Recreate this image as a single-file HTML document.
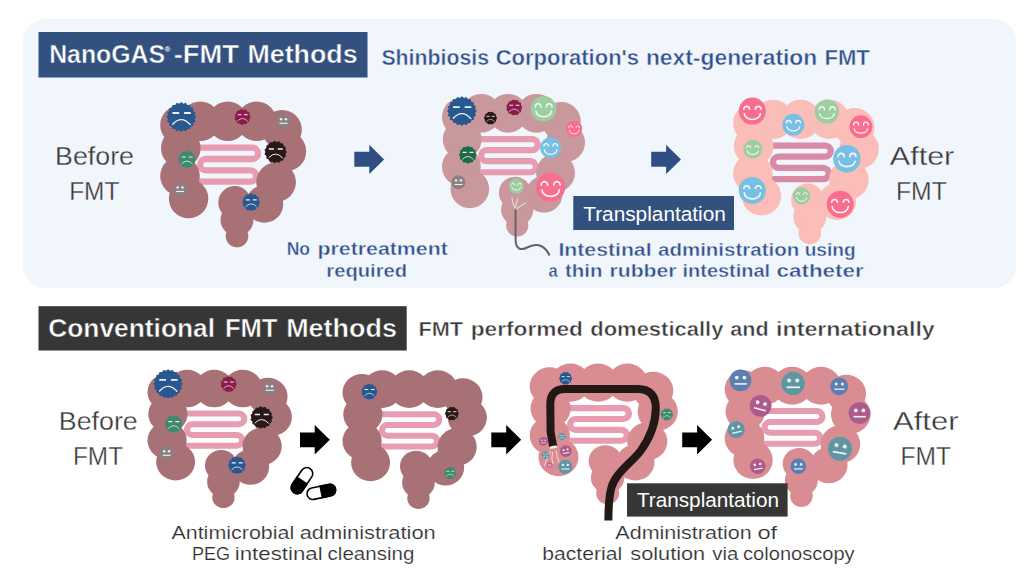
<!DOCTYPE html>
<html lang="en">
<head>
<meta charset="utf-8">
<title>NanoGAS-FMT Methods vs Conventional FMT Methods</title>
<style>
html,body{margin:0;padding:0;background:#fff;}
body{width:1024px;height:576px;overflow:hidden;font-family:"Liberation Sans",sans-serif;}
svg{display:block;}
text{font-family:"Liberation Sans",sans-serif;}
.b{font-weight:bold;}
.navy{fill:#30508a;}
.dk{fill:#3a3a3a;}
</style>
</head>
<body>
<svg width="1024" height="576" viewBox="0 0 1024 576">
<!-- top panel -->
<rect x="23" y="19" width="993" height="269" rx="22" ry="22" fill="#f1f5fc"/>
<!-- title 1 -->
<rect x="38.5" y="32" width="329" height="45.5" fill="#33517f"/>
<!-- title 2 -->
<rect x="38.5" y="306.2" width="368.2" height="44.3" fill="#363636"/>
<g font-size="26.5" class="b" fill="#fff" stroke="#33517f" stroke-width="0.5">
<text x="49.2" y="63" textLength="115.9" lengthAdjust="spacingAndGlyphs">NanoGAS</text>
<text x="173.7" y="63" textLength="65.2" lengthAdjust="spacingAndGlyphs">-FMT</text>
<text x="247.4" y="63" textLength="110.2" lengthAdjust="spacingAndGlyphs">Methods</text>
</g>
<text x="164.6" y="51.5" font-size="8" class="b" fill="#fff">®</text>
<g font-size="21.5" class="b" fill="#30508a" stroke="#f1f5fc" stroke-width="0.45">
<text x="381.4" y="64.5" textLength="107.7" lengthAdjust="spacingAndGlyphs">Shinbiosis</text>
<text x="495.7" y="64.5" textLength="143.4" lengthAdjust="spacingAndGlyphs">Corporation's</text>
<text x="645.9" y="64.5" textLength="171.4" lengthAdjust="spacingAndGlyphs">next-generation</text>
<text x="824.4" y="64.5" textLength="45.4" lengthAdjust="spacingAndGlyphs">FMT</text>
</g>
<g font-size="26.5" class="b" fill="#fff" stroke="#363636" stroke-width="0.5">
<text x="48.2" y="337" textLength="166.9" lengthAdjust="spacingAndGlyphs">Conventional</text>
<text x="224.9" y="337" textLength="52.6" lengthAdjust="spacingAndGlyphs">FMT</text>
<text x="286.2" y="337" textLength="110.7" lengthAdjust="spacingAndGlyphs">Methods</text>
</g>
<g font-size="21" class="b" fill="#3a3a3a" stroke="#fff" stroke-width="0.45">
<text x="418.4" y="335.5" textLength="44.6" lengthAdjust="spacingAndGlyphs">FMT</text>
<text x="470.7" y="335.5" textLength="112.3" lengthAdjust="spacingAndGlyphs">performed</text>
<text x="590.2" y="335.5" textLength="133.3" lengthAdjust="spacingAndGlyphs">domestically</text>
<text x="730.2" y="335.5" textLength="38.4" lengthAdjust="spacingAndGlyphs">and</text>
<text x="776" y="335.5" textLength="158.8" lengthAdjust="spacingAndGlyphs">internationally</text>
</g>
<!-- row 1 illustrations -->
<g transform="translate(160.2 101.5) scale(1.0000 1.0000)">
<path d="M40 46.2 H92.2 A5.6 5.6 0 0 1 92.2 57.5 H45.5 A5.6 5.6 0 0 0 45.5 68.8 H90.2 A5.6 5.6 0 0 1 90.2 80.1 H40" fill="none" stroke="#e79cb2" stroke-width="6.3" stroke-linecap="round"/>
<g fill="#a87176">
<circle cx="19.6" cy="23.5" r="19.6"/>
<circle cx="40.1" cy="19.8" r="19.8"/>
<circle cx="67.5" cy="19.8" r="19.8"/>
<circle cx="96.4" cy="19.8" r="19.8"/>
<circle cx="121.8" cy="28.2" r="19.8"/>
<circle cx="126.2" cy="49.8" r="19.8"/>
<circle cx="115.9" cy="80.7" r="19.8"/>
<circle cx="104.2" cy="102.5" r="18.8"/>
<circle cx="74.5" cy="101" r="16.4"/>
<circle cx="76.8" cy="118.2" r="16.5"/>
<circle cx="76.8" cy="134.6" r="11.3"/>
<circle cx="20.6" cy="46.6" r="19.8"/>
<circle cx="19.8" cy="74.5" r="19.8"/>
<circle cx="28.4" cy="97.1" r="19.7"/>
</g></g>
<polygon points="196.2,117 194.5,119.1 195.5,121.6 193.2,123.1 193.4,125.8 190.8,126.5 190.1,129.1 187.4,128.9 185.9,131.2 183.4,130.2 181.3,131.9 179.2,130.2 176.7,131.2 175.2,128.9 172.5,129.1 171.8,126.5 169.2,125.8 169.4,123.1 167.1,121.6 168.1,119.1 166.4,117 168.1,114.9 167.1,112.4 169.4,110.9 169.2,108.2 171.8,107.5 172.5,104.9 175.2,105.1 176.7,102.8 179.2,103.8 181.3,102.1 183.4,103.8 185.9,102.8 187.4,105.1 190.1,104.9 190.8,107.5 193.4,108.2 193.2,110.9 195.5,112.4 194.5,114.9" fill="#27588f"/><path d="M172.4 113H179.2M184.1 113H190.8" stroke="#f0f0f0" stroke-width="1.9" fill="none"/><path d="M172.7 124.2Q181.3 114.8 190.2 124.5" stroke="#f0f0f0" stroke-width="1.3" fill="none" stroke-linecap="round"/>
<polygon points="250.6,116.9 249.5,119 249.3,121.3 247.3,122.4 245.9,124.3 243.5,124.1 241.3,124.9 239.5,123.5 237.2,123 236.4,120.8 234.7,119.2 235.2,116.9 234.7,114.6 236.4,113 237.2,110.8 239.5,110.3 241.3,108.9 243.5,109.7 245.9,109.5 247.3,111.4 249.3,112.5 249.5,114.8" fill="#8a1c4c"/><path d="M237.6 114.7H241.4M244 114.7H247.7" stroke="#f0f0f0" stroke-width="1.1" fill="none"/><path d="M237.8 120.8Q242.5 115.7 247.4 121" stroke="#f0f0f0" stroke-width="0.7" fill="none" stroke-linecap="round"/>
<circle cx="283.4" cy="121" r="7" fill="#8b8184"/><circle cx="281" cy="119.2" r="1.2" fill="#f2f2f2"/><circle cx="285.9" cy="119.2" r="1.2" fill="#f2f2f2"/><path d="M279.5 123.3H287.5" stroke="#f2f2f2" stroke-width="1.1" fill="none"/>
<polygon points="286.9,152 285.5,154.1 285.9,156.6 283.8,158 283.2,160.4 280.7,160.8 279.1,162.7 276.7,162.1 274.4,163.2 272.5,161.7 270,161.8 268.8,159.6 266.5,158.6 266.3,156.1 264.5,154.3 265.4,152 264.5,149.7 266.3,147.9 266.5,145.4 268.8,144.4 270,142.2 272.5,142.3 274.4,140.8 276.7,141.9 279.1,141.3 280.7,143.2 283.2,143.6 283.8,146 285.9,147.4 285.5,149.9" fill="#2a1819"/><path d="M268.8 148.9H274M277.7 148.9H282.8" stroke="#f0f0f0" stroke-width="1.5" fill="none"/><path d="M269 157.4Q275.6 150.3 282.4 157.7" stroke="#f0f0f0" stroke-width="1" fill="none" stroke-linecap="round"/>
<polygon points="195.9,159.4 194.7,161.5 194.7,163.8 192.7,165.1 191.4,167.1 189.1,167.1 187,168.3 184.9,167.1 182.6,167.1 181.3,165.1 179.3,163.8 179.3,161.5 178.1,159.4 179.3,157.3 179.3,155 181.3,153.7 182.5,151.7 184.9,151.7 187,150.5 189.1,151.7 191.4,151.7 192.7,153.7 194.7,154.9 194.7,157.3" fill="#3f8a6c"/><path d="M181.7 157H185.8M188.7 157H192.7" stroke="#f0f0f0" stroke-width="1.2" fill="none"/><path d="M181.8 163.7Q187 158.1 192.3 163.8" stroke="#f0f0f0" stroke-width="0.8" fill="none" stroke-linecap="round"/>
<circle cx="180" cy="189.2" r="7" fill="#8b8184"/><circle cx="177.6" cy="187.4" r="1.2" fill="#f2f2f2"/><circle cx="182.5" cy="187.4" r="1.2" fill="#f2f2f2"/><path d="M176.2 191.5H184.1" stroke="#f2f2f2" stroke-width="1.1" fill="none"/>
<polygon points="260,202.2 258.8,204.3 258.8,206.6 256.8,207.9 255.5,209.9 253.2,209.9 251.1,211.1 249,209.9 246.7,209.9 245.4,207.9 243.4,206.6 243.4,204.3 242.2,202.2 243.4,200.1 243.4,197.8 245.4,196.5 246.6,194.5 249,194.5 251.1,193.3 253.2,194.5 255.5,194.5 256.8,196.5 258.8,197.7 258.8,200.1" fill="#27588f"/><path d="M245.8 199.8H249.9M252.8 199.8H256.8" stroke="#f0f0f0" stroke-width="1.2" fill="none"/><path d="M245.9 206.5Q251.1 200.9 256.4 206.6" stroke="#f0f0f0" stroke-width="0.8" fill="none" stroke-linecap="round"/>
<g transform="translate(442 93.9) scale(0.9795 0.9781)">
<path d="M40 46.2 H92.2 A5.6 5.6 0 0 1 92.2 57.5 H45.5 A5.6 5.6 0 0 0 45.5 68.8 H90.2 A5.6 5.6 0 0 1 90.2 80.1 H40" fill="none" stroke="#e79cb2" stroke-width="6.3" stroke-linecap="round"/>
<g fill="#c9989c">
<circle cx="19.6" cy="23.5" r="19.6"/>
<circle cx="40.1" cy="19.8" r="19.8"/>
<circle cx="67.5" cy="19.8" r="19.8"/>
<circle cx="96.4" cy="19.8" r="19.8"/>
<circle cx="121.8" cy="28.2" r="19.8"/>
<circle cx="126.2" cy="49.8" r="19.8"/>
<circle cx="115.9" cy="80.7" r="19.8"/>
<circle cx="104.2" cy="102.5" r="18.8"/>
<circle cx="74.5" cy="101" r="16.4"/>
<circle cx="76.8" cy="118.2" r="16.5"/>
<circle cx="76.8" cy="134.6" r="11.3"/>
<circle cx="20.6" cy="46.6" r="19.8"/>
<circle cx="19.8" cy="74.5" r="19.8"/>
<circle cx="28.4" cy="97.1" r="19.7"/>
</g></g>
<path d="M515 207.9Q512.3 203 511.9 197.5M515.7 207.2Q516 202.5 517.8 198.9M517.1 208.6Q520.5 205.5 525.4 203" stroke="#ead9d9" stroke-width="1.2" fill="none" stroke-linecap="round"/>
<path d="M515.5 209.5L515.6 240C515.7 249 521 250.5 526 248C531 245.5 536 243.5 541 246C546 248.5 548 252 549.5 255.5" stroke="#6b6062" stroke-width="2" fill="none"/>
<polygon points="476.7,111.1 475.1,113.2 476,115.7 473.8,117.1 473.9,119.8 471.3,120.5 470.6,123.1 467.9,123 466.5,125.2 464,124.3 461.9,125.9 459.8,124.3 457.3,125.2 455.9,123 453.2,123.1 452.5,120.5 449.9,119.8 450,117.1 447.8,115.7 448.7,113.2 447.1,111.1 448.7,109 447.8,106.5 450,105.1 449.9,102.4 452.5,101.7 453.2,99.1 455.9,99.2 457.3,97 459.8,97.9 461.9,96.3 464,97.9 466.5,97 467.9,99.2 470.6,99.1 471.3,101.7 473.9,102.4 473.8,105.1 476,106.5 475.1,109" fill="#27588f"/><path d="M453 107.1H459.8M464.7 107.1H471.4" stroke="#f0f0f0" stroke-width="1.9" fill="none"/><path d="M453.3 118.2Q461.9 108.9 470.8 118.5" stroke="#f0f0f0" stroke-width="1.3" fill="none" stroke-linecap="round"/>
<polygon points="497.1,118.1 496.1,119.9 495.8,122 494,122.9 492.5,124.4 490.5,124 488.5,124.4 487,122.9 485.2,122 484.9,119.9 483.9,118.1 484.9,116.3 485.2,114.2 487,113.3 488.5,111.8 490.5,112.2 492.5,111.8 494,113.3 495.8,114.2 496.1,116.3" fill="#2a1819"/><path d="M486.5 116.3H489.6M491.8 116.3H494.7" stroke="#f0f0f0" stroke-width="0.9" fill="none"/><path d="M486.7 121.3Q490.5 117.1 494.5 121.4" stroke="#f0f0f0" stroke-width="0.6" fill="none" stroke-linecap="round"/>
<polygon points="522.3,107.5 521.2,109.6 521,111.9 519,113 517.6,114.9 515.2,114.7 513,115.5 511.2,114.1 508.9,113.6 508.1,111.4 506.4,109.8 506.9,107.5 506.4,105.2 508.1,103.6 508.9,101.4 511.2,100.9 513,99.5 515.2,100.3 517.6,100.1 519,102 521,103.1 521.2,105.4" fill="#8a1c4c"/><path d="M509.3 105.3H513.1M515.7 105.3H519.4" stroke="#f0f0f0" stroke-width="1.1" fill="none"/><path d="M509.5 111.4Q514.2 106.3 519.1 111.5" stroke="#f0f0f0" stroke-width="0.7" fill="none" stroke-linecap="round"/>
<circle cx="543.6" cy="108.8" r="12.8" fill="#9bcf9f"/><path d="M535.4 106.9A2.8 3.1 0 0 1 541 106.9M546.4 106.9A2.8 3.1 0 0 1 552 106.9M536 111.1A7.6 5.6 0 0 0 551.3 111.1" stroke="#fdf4f4" stroke-width="1.5" fill="none" stroke-linecap="round"/>
<circle cx="574.1" cy="128.8" r="8.1" fill="#f86e8e"/><path d="M568.9 127.6A1.8 2 0 0 1 572.5 127.6M575.9 127.6A1.8 2 0 0 1 579.4 127.6M569.3 130.3A4.8 3.6 0 0 0 579 130.3" stroke="#fdf4f4" stroke-width="0.9" fill="none" stroke-linecap="round"/>
<circle cx="550.6" cy="147.8" r="10.5" fill="#76c0e6"/><path d="M543.9 146.2A2.3 2.5 0 0 1 548.5 146.2M552.9 146.2A2.3 2.5 0 0 1 557.5 146.2M544.4 149.7A6.2 4.6 0 0 0 556.9 149.7" stroke="#fdf4f4" stroke-width="1.2" fill="none" stroke-linecap="round"/>
<polygon points="476.7,154.8 475.5,156.9 475.5,159.2 473.5,160.5 472.2,162.5 469.9,162.5 467.8,163.7 465.7,162.5 463.4,162.5 462.1,160.5 460.1,159.2 460.1,156.9 458.9,154.8 460.1,152.7 460.1,150.4 462.1,149.1 463.4,147.1 465.7,147.1 467.8,145.9 469.9,147.1 472.2,147.1 473.5,149.1 475.5,150.3 475.5,152.7" fill="#1e6b4a"/><path d="M462.5 152.4H466.6M469.5 152.4H473.5" stroke="#f0f0f0" stroke-width="1.2" fill="none"/><path d="M462.6 159.1Q467.8 153.5 473.1 159.2" stroke="#f0f0f0" stroke-width="0.8" fill="none" stroke-linecap="round"/>
<circle cx="458.4" cy="182.2" r="7" fill="#8b8184"/><circle cx="456" cy="180.4" r="1.2" fill="#f2f2f2"/><circle cx="460.9" cy="180.4" r="1.2" fill="#f2f2f2"/><path d="M454.5 184.5H462.5" stroke="#f2f2f2" stroke-width="1.1" fill="none"/>
<circle cx="516.3" cy="186.1" r="7.5" fill="#9bcf9f"/><path d="M511.5 185A1.6 1.8 0 0 1 514.8 185M517.9 185A1.6 1.8 0 0 1 521.2 185M511.9 187.4A4.5 3.3 0 0 0 520.8 187.4" stroke="#fdf4f4" stroke-width="0.9" fill="none" stroke-linecap="round"/>
<circle cx="550.6" cy="187.3" r="14.5" fill="#f86e8e"/><path d="M541.3 185.1A3.2 3.5 0 0 1 547.7 185.1M553.8 185.1A3.2 3.5 0 0 1 560.2 185.1M542 189.9A8.6 6.4 0 0 0 559.3 189.9" stroke="#fdf4f4" stroke-width="1.7" fill="none" stroke-linecap="round"/>
<g transform="translate(733.1 99.7) scale(0.9986 0.9918)">
<path d="M40 46.2 H92.2 A5.6 5.6 0 0 1 92.2 57.5 H45.5 A5.6 5.6 0 0 0 45.5 68.8 H90.2 A5.6 5.6 0 0 1 90.2 80.1 H40" fill="none" stroke="#d88aa6" stroke-width="6.3" stroke-linecap="round"/>
<g fill="#fbbdb8">
<circle cx="19.6" cy="23.5" r="19.6"/>
<circle cx="40.1" cy="19.8" r="19.8"/>
<circle cx="67.5" cy="19.8" r="19.8"/>
<circle cx="96.4" cy="19.8" r="19.8"/>
<circle cx="121.8" cy="28.2" r="19.8"/>
<circle cx="126.2" cy="49.8" r="19.8"/>
<circle cx="115.9" cy="80.7" r="19.8"/>
<circle cx="104.2" cy="102.5" r="18.8"/>
<circle cx="74.5" cy="101" r="16.4"/>
<circle cx="76.8" cy="118.2" r="16.5"/>
<circle cx="76.8" cy="134.6" r="11.3"/>
<circle cx="20.6" cy="46.6" r="19.8"/>
<circle cx="19.8" cy="74.5" r="19.8"/>
<circle cx="28.4" cy="97.1" r="19.7"/>
</g></g>
<circle cx="752.3" cy="111.1" r="13.5" fill="#f86e8e"/><path d="M743.7 109.1A3 3.3 0 0 1 749.6 109.1M755.3 109.1A3 3.3 0 0 1 761.2 109.1M744.3 113.5A8 5.9 0 0 0 760.4 113.5" stroke="#fdf4f4" stroke-width="1.6" fill="none" stroke-linecap="round"/>
<circle cx="793.3" cy="124.7" r="10.9" fill="#76c0e6"/><path d="M786.3 123.1A2.4 2.6 0 0 1 791.1 123.1M795.7 123.1A2.4 2.6 0 0 1 800.5 123.1M786.9 126.7A6.5 4.8 0 0 0 799.8 126.7" stroke="#fdf4f4" stroke-width="1.3" fill="none" stroke-linecap="round"/>
<circle cx="826.9" cy="111.6" r="12.2" fill="#9bcf9f"/><path d="M819.1 109.8A2.7 3 0 0 1 824.5 109.8M829.6 109.8A2.7 3 0 0 1 835 109.8M819.7 113.8A7.3 5.4 0 0 0 834.2 113.8" stroke="#fdf4f4" stroke-width="1.4" fill="none" stroke-linecap="round"/>
<circle cx="860.9" cy="126.7" r="11.4" fill="#f86e8e"/><path d="M853.6 125A2.5 2.8 0 0 1 858.6 125M863.4 125A2.5 2.8 0 0 1 868.4 125M854.2 128.8A6.8 5 0 0 0 867.7 128.8" stroke="#fdf4f4" stroke-width="1.3" fill="none" stroke-linecap="round"/>
<circle cx="752.7" cy="149.1" r="9.4" fill="#9bcf9f"/><path d="M746.7 147.7A2.1 2.3 0 0 1 750.8 147.7M754.8 147.7A2.1 2.3 0 0 1 758.9 147.7M747.2 150.8A5.6 4.1 0 0 0 758.3 150.8" stroke="#fdf4f4" stroke-width="1.1" fill="none" stroke-linecap="round"/>
<circle cx="846.9" cy="158.8" r="13.7" fill="#76c0e6"/><path d="M838.1 156.7A3 3.3 0 0 1 844.2 156.7M849.9 156.7A3 3.3 0 0 1 855.9 156.7M838.8 161.3A8.2 6 0 0 0 855.1 161.3" stroke="#fdf4f4" stroke-width="1.6" fill="none" stroke-linecap="round"/>
<circle cx="752.3" cy="190.5" r="13.5" fill="#76c0e6"/><path d="M743.7 188.5A3 3.3 0 0 1 749.6 188.5M755.3 188.5A3 3.3 0 0 1 761.2 188.5M744.3 192.9A8 5.9 0 0 0 760.4 192.9" stroke="#fdf4f4" stroke-width="1.6" fill="none" stroke-linecap="round"/>
<circle cx="801.6" cy="195.9" r="8.6" fill="#9bcf9f"/><path d="M796.1 194.6A1.9 2.1 0 0 1 799.9 194.6M803.5 194.6A1.9 2.1 0 0 1 807.3 194.6M796.5 197.4A5.1 3.8 0 0 0 806.8 197.4" stroke="#fdf4f4" stroke-width="1" fill="none" stroke-linecap="round"/>
<circle cx="840.2" cy="204.2" r="13.5" fill="#f86e8e"/><path d="M831.6 202.2A3 3.3 0 0 1 837.5 202.2M843.2 202.2A3 3.3 0 0 1 849.1 202.2M832.2 206.6A8 5.9 0 0 0 848.3 206.6" stroke="#fdf4f4" stroke-width="1.6" fill="none" stroke-linecap="round"/>
<!-- row 2 illustrations -->
<g transform="translate(147.5 369.8) scale(0.9890 0.9479)">
<path d="M40 46.2 H92.2 A5.6 5.6 0 0 1 92.2 57.5 H45.5 A5.6 5.6 0 0 0 45.5 68.8 H90.2 A5.6 5.6 0 0 1 90.2 80.1 H40" fill="none" stroke="#e79cb2" stroke-width="6.3" stroke-linecap="round"/>
<g fill="#a87176">
<circle cx="19.6" cy="23.5" r="19.6"/>
<circle cx="40.1" cy="19.8" r="19.8"/>
<circle cx="67.5" cy="19.8" r="19.8"/>
<circle cx="96.4" cy="19.8" r="19.8"/>
<circle cx="121.8" cy="28.2" r="19.8"/>
<circle cx="126.2" cy="49.8" r="19.8"/>
<circle cx="115.9" cy="80.7" r="19.8"/>
<circle cx="104.2" cy="102.5" r="18.8"/>
<circle cx="74.5" cy="101" r="16.4"/>
<circle cx="76.8" cy="118.2" r="16.5"/>
<circle cx="76.8" cy="134.6" r="11.3"/>
<circle cx="20.6" cy="46.6" r="19.8"/>
<circle cx="19.8" cy="74.5" r="19.8"/>
<circle cx="28.4" cy="97.1" r="19.7"/>
</g></g>
<polygon points="182.8,383.9 181.2,386 182.1,388.4 179.9,389.9 180,392.5 177.5,393.3 176.7,395.8 174.1,395.7 172.6,397.9 170.2,397 168.1,398.6 166,397 163.6,397.9 162.1,395.7 159.5,395.8 158.7,393.3 156.2,392.5 156.3,389.9 154.1,388.4 155,386 153.4,383.9 155,381.8 154.1,379.4 156.3,377.9 156.2,375.3 158.7,374.5 159.5,372 162.1,372.1 163.6,369.9 166,370.8 168.1,369.2 170.2,370.8 172.6,369.9 174.1,372.1 176.7,372 177.5,374.5 180,375.3 179.9,377.9 182.1,379.4 181.2,381.8" fill="#27588f"/><path d="M159.3 379.9H166M170.9 379.9H177.5" stroke="#f0f0f0" stroke-width="1.9" fill="none"/><path d="M159.6 391Q168.1 381.7 176.9 391.2" stroke="#f0f0f0" stroke-width="1.3" fill="none" stroke-linecap="round"/>
<polygon points="236.7,384.2 235.6,386.3 235.4,388.6 233.4,389.7 232,391.6 229.6,391.4 227.4,392.2 225.6,390.8 223.3,390.3 222.5,388.1 220.8,386.5 221.3,384.2 220.8,381.9 222.5,380.3 223.3,378.1 225.6,377.6 227.4,376.2 229.6,377 232,376.8 233.4,378.7 235.4,379.8 235.6,382.1" fill="#8a1c4c"/><path d="M223.7 382H227.5M230.1 382H233.8" stroke="#f0f0f0" stroke-width="1.1" fill="none"/><path d="M223.9 388.1Q228.6 383 233.5 388.2" stroke="#f0f0f0" stroke-width="0.7" fill="none" stroke-linecap="round"/>
<circle cx="269.5" cy="388" r="7" fill="#8b8184"/><circle cx="267.1" cy="386.2" r="1.2" fill="#f2f2f2"/><circle cx="272" cy="386.2" r="1.2" fill="#f2f2f2"/><path d="M265.6 390.3H273.6" stroke="#f2f2f2" stroke-width="1.1" fill="none"/>
<polygon points="272.9,417.5 271.5,419.6 271.9,422.1 269.8,423.5 269.2,425.9 266.7,426.3 265.1,428.2 262.7,427.6 260.4,428.7 258.5,427.2 256,427.3 254.8,425.1 252.5,424.1 252.3,421.6 250.5,419.8 251.4,417.5 250.5,415.2 252.3,413.4 252.5,410.9 254.8,409.9 256,407.7 258.5,407.8 260.4,406.3 262.7,407.4 265.1,406.8 266.7,408.7 269.2,409.1 269.8,411.5 271.9,412.9 271.5,415.4" fill="#2a1819"/><path d="M254.8 414.4H260M263.7 414.4H268.8" stroke="#f0f0f0" stroke-width="1.5" fill="none"/><path d="M255 422.9Q261.6 415.8 268.4 423.1" stroke="#f0f0f0" stroke-width="1" fill="none" stroke-linecap="round"/>
<polygon points="182.5,424 181.3,426.1 181.3,428.4 179.3,429.7 178,431.7 175.7,431.7 173.6,432.9 171.5,431.7 169.2,431.7 167.9,429.7 165.9,428.4 165.9,426.1 164.7,424 165.9,421.9 165.9,419.6 167.9,418.3 169.1,416.3 171.5,416.3 173.6,415.1 175.7,416.3 178,416.3 179.3,418.3 181.3,419.6 181.3,421.9" fill="#3f8a6c"/><path d="M168.3 421.6H172.4M175.3 421.6H179.3" stroke="#f0f0f0" stroke-width="1.2" fill="none"/><path d="M168.4 428.3Q173.6 422.7 178.9 428.4" stroke="#f0f0f0" stroke-width="0.8" fill="none" stroke-linecap="round"/>
<circle cx="166.6" cy="453" r="7" fill="#8b8184"/><circle cx="164.2" cy="451.2" r="1.2" fill="#f2f2f2"/><circle cx="169.1" cy="451.2" r="1.2" fill="#f2f2f2"/><path d="M162.8 455.3H170.7" stroke="#f2f2f2" stroke-width="1.1" fill="none"/>
<polygon points="245.9,465.2 244.7,467.3 244.7,469.6 242.7,470.9 241.4,472.9 239.1,472.9 237,474.1 234.9,472.9 232.6,472.9 231.3,470.9 229.3,469.6 229.3,467.3 228.1,465.2 229.3,463.1 229.3,460.8 231.3,459.5 232.5,457.5 234.9,457.5 237,456.3 239.1,457.5 241.4,457.5 242.7,459.5 244.7,460.8 244.7,463.1" fill="#27588f"/><path d="M231.7 462.8H235.8M238.7 462.8H242.7" stroke="#f0f0f0" stroke-width="1.2" fill="none"/><path d="M231.8 469.5Q237 463.9 242.3 469.6" stroke="#f0f0f0" stroke-width="0.8" fill="none" stroke-linecap="round"/>
<g transform="translate(302 480.6) rotate(-56)"><rect x="-14.5" y="-6" width="29" height="12" rx="6" fill="#fff" stroke="#000" stroke-width="1.6"/><path d="M-14.5 0A6 6 0 0 1 -8.5 -6H0V6H-8.5A6 6 0 0 1 -14.5 0Z" fill="#000" stroke="#000" stroke-width="1.6"/></g>
<g transform="translate(321.3 491.9) rotate(-12)"><rect x="-14.5" y="-5.8" width="29" height="11.6" rx="5.8" fill="#fff" stroke="#000" stroke-width="1.6"/><path d="M14.5 0A5.8 5.8 0 0 0 8.7 -5.8H0V5.8H8.7A5.8 5.8 0 0 0 14.5 0Z" fill="#000" stroke="#000" stroke-width="1.6"/></g>
<g transform="translate(342.5 370.3) scale(0.9890 0.9500)">
<path d="M40 46.2 H92.2 A5.6 5.6 0 0 1 92.2 57.5 H45.5 A5.6 5.6 0 0 0 45.5 68.8 H90.2 A5.6 5.6 0 0 1 90.2 80.1 H40" fill="none" stroke="#e79cb2" stroke-width="6.3" stroke-linecap="round"/>
<g fill="#a87176">
<circle cx="19.6" cy="23.5" r="19.6"/>
<circle cx="40.1" cy="19.8" r="19.8"/>
<circle cx="67.5" cy="19.8" r="19.8"/>
<circle cx="96.4" cy="19.8" r="19.8"/>
<circle cx="121.8" cy="28.2" r="19.8"/>
<circle cx="126.2" cy="49.8" r="19.8"/>
<circle cx="115.9" cy="80.7" r="19.8"/>
<circle cx="104.2" cy="102.5" r="18.8"/>
<circle cx="74.5" cy="101" r="16.4"/>
<circle cx="76.8" cy="118.2" r="16.5"/>
<circle cx="76.8" cy="134.6" r="11.3"/>
<circle cx="20.6" cy="46.6" r="19.8"/>
<circle cx="19.8" cy="74.5" r="19.8"/>
<circle cx="28.4" cy="97.1" r="19.7"/>
</g></g>
<polygon points="377.5,391.7 376.4,393.8 376.2,396.1 374.2,397.2 372.8,399.1 370.4,398.9 368.2,399.7 366.4,398.3 364.1,397.8 363.3,395.6 361.6,394 362.1,391.7 361.6,389.4 363.3,387.8 364.1,385.6 366.4,385.1 368.2,383.7 370.4,384.5 372.8,384.3 374.2,386.2 376.2,387.3 376.4,389.6" fill="#27588f"/><path d="M364.5 389.5H368.3M370.9 389.5H374.6" stroke="#f0f0f0" stroke-width="1.1" fill="none"/><path d="M364.7 395.6Q369.4 390.5 374.3 395.8" stroke="#f0f0f0" stroke-width="0.7" fill="none" stroke-linecap="round"/>
<polygon points="458.9,413.6 457.9,415.5 457.6,417.7 455.6,418.7 454.1,420.3 451.9,419.9 449.7,420.3 448.2,418.7 446.2,417.7 445.9,415.5 444.9,413.6 445.9,411.7 446.2,409.5 448.2,408.5 449.7,406.9 451.9,407.3 454.1,406.9 455.6,408.5 457.6,409.5 457.9,411.7" fill="#2a1819"/><path d="M447.7 411.7H450.9M453.2 411.7H456.4" stroke="#f0f0f0" stroke-width="0.9" fill="none"/><path d="M447.8 417Q451.9 412.6 456.1 417.1" stroke="#f0f0f0" stroke-width="0.6" fill="none" stroke-linecap="round"/>
<polygon points="456.5,473 455.6,474.8 455.3,476.7 453.5,477.6 452.1,479 450.2,478.7 448.3,479 446.9,477.6 445.1,476.7 444.8,474.8 443.9,473 444.8,471.2 445.1,469.3 446.9,468.4 448.3,467 450.2,467.3 452.1,467 453.5,468.4 455.3,469.3 455.6,471.2" fill="#3f8a6c"/><path d="M446.4 471.3H449.3M451.4 471.3H454.2" stroke="#f0f0f0" stroke-width="0.8" fill="none"/><path d="M446.5 476Q450.2 472.1 454 476.1" stroke="#f0f0f0" stroke-width="0.6" fill="none" stroke-linecap="round"/>
<g transform="translate(529.7 363.6) scale(1.0144 0.9637)">
<path d="M40 46.2 H92.2 A5.6 5.6 0 0 1 92.2 57.5 H45.5 A5.6 5.6 0 0 0 45.5 68.8 H90.2 A5.6 5.6 0 0 1 90.2 80.1 H40" fill="none" stroke="#e79cb2" stroke-width="6.3" stroke-linecap="round"/>
<g fill="#d98d93">
<circle cx="19.6" cy="23.5" r="19.6"/>
<circle cx="40.1" cy="19.8" r="19.8"/>
<circle cx="67.5" cy="19.8" r="19.8"/>
<circle cx="96.4" cy="19.8" r="19.8"/>
<circle cx="121.8" cy="28.2" r="19.8"/>
<circle cx="126.2" cy="49.8" r="19.8"/>
<circle cx="115.9" cy="80.7" r="19.8"/>
<circle cx="104.2" cy="102.5" r="18.8"/>
<circle cx="74.5" cy="101" r="16.4"/>
<circle cx="76.8" cy="118.2" r="16.5"/>
<circle cx="76.8" cy="134.6" r="11.3"/>
<circle cx="20.6" cy="46.6" r="19.8"/>
<circle cx="19.8" cy="74.5" r="19.8"/>
<circle cx="28.4" cy="97.1" r="19.7"/>
</g></g>
<path d="M550.3 451.5Q546.5 458 544.6 465.5M552.5 452.5Q551 458 552.8 463.5M556 450.5Q556.5 457 559.4 463" stroke="#f1e2e2" stroke-width="0.9" fill="none" stroke-linecap="round"/>
<path d="M553.2 446.6L550.6 432L550.3 404C550.3 394 555.5 388.9 564.5 388.9H638C650 388.9 655.8 396 655.8 408C655.8 424 651 436.5 640.5 451C632 462.5 615.5 472.5 611.3 488C609.5 495 608.4 505 608.4 520.5" stroke="#231815" stroke-width="8" fill="none"/>
<ellipse cx="553.4" cy="447.2" rx="3.9" ry="1.4" fill="#f3eaea" transform="rotate(-10 553.4 447.2)"/>
<polygon points="572.2,378.4 571.2,380.2 570.9,382.3 569.1,383.2 567.6,384.7 565.6,384.3 563.6,384.7 562.1,383.2 560.3,382.3 560,380.2 559,378.4 560,376.6 560.3,374.5 562.1,373.6 563.6,372.1 565.6,372.5 567.6,372.1 569.1,373.6 570.9,374.5 571.2,376.6" fill="#27588f"/><path d="M561.6 376.6H564.7M566.9 376.6H569.8" stroke="#f0f0f0" stroke-width="0.9" fill="none"/><path d="M561.8 381.6Q565.6 377.4 569.6 381.7" stroke="#f0f0f0" stroke-width="0.6" fill="none" stroke-linecap="round"/>
<polygon points="673.2,414.4 672.3,416.2 672,418.1 670.2,419 668.8,420.4 666.9,420.1 665,420.4 663.6,419 661.8,418.1 661.5,416.2 660.6,414.4 661.5,412.6 661.8,410.7 663.6,409.8 665,408.4 666.9,408.7 668.8,408.4 670.2,409.8 672,410.7 672.3,412.6" fill="#3f8a6c"/><path d="M663.1 412.7H666M668.1 412.7H670.9" stroke="#f0f0f0" stroke-width="0.8" fill="none"/><path d="M663.2 417.4Q666.9 413.5 670.7 417.5" stroke="#f0f0f0" stroke-width="0.6" fill="none" stroke-linecap="round"/>
<polygon points="565.8,436.6 565.2,437.7 565.1,438.9 564,439.4 563.1,440.3 561.9,440.1 560.7,440.3 559.8,439.4 558.7,438.9 558.6,437.7 558,436.6 558.6,435.5 558.7,434.3 559.8,433.8 560.7,432.9 561.9,433.1 563.1,432.9 564,433.8 565.1,434.3 565.2,435.5" fill="#5e97a3"/><path d="M559.6 435.5H561.4M562.6 435.5H564.4" stroke="#f0f0f0" stroke-width="0.7" fill="none"/><path d="M559.6 438.5Q561.9 436 564.2 438.6" stroke="#f0f0f0" stroke-width="0.6" fill="none" stroke-linecap="round"/>
<circle cx="543.4" cy="441.3" r="4.4" fill="#ae5a8c"/><circle cx="541.9" cy="440.2" r="0.7" fill="#f2f2f2"/><circle cx="545" cy="440.2" r="0.7" fill="#f2f2f2"/><path d="M541 442.8H546" stroke="#f2f2f2" stroke-width="0.7" fill="none"/>
<circle cx="565.8" cy="451.1" r="5.9" fill="#ae5a8c"/><g transform="rotate(-10 565.8 451.1)"><circle cx="563.8" cy="449.6" r="1" fill="#f2f2f2"/><circle cx="567.9" cy="449.6" r="1" fill="#f2f2f2"/><path d="M562.6 453H569.2" stroke="#f2f2f2" stroke-width="0.9" fill="none"/></g>
<polygon points="549.4,455 548.8,456.1 548.7,457.3 547.6,457.8 546.7,458.7 545.5,458.5 544.3,458.7 543.4,457.8 542.3,457.3 542.2,456.1 541.6,455 542.2,453.9 542.3,452.7 543.4,452.2 544.3,451.3 545.5,451.5 546.7,451.3 547.6,452.2 548.7,452.7 548.8,453.9" fill="#5e97a3"/><path d="M543.2 453.9H545M546.2 453.9H548" stroke="#f0f0f0" stroke-width="0.7" fill="none"/><path d="M543.2 456.9Q545.5 454.4 547.8 456.9" stroke="#f0f0f0" stroke-width="0.6" fill="none" stroke-linecap="round"/>
<circle cx="549.7" cy="465.2" r="2.8" fill="#c95f92"/><circle cx="548.7" cy="464.5" r="0.5" fill="#f2f2f2"/><circle cx="550.7" cy="464.5" r="0.5" fill="#f2f2f2"/><path d="M548.2 466.1H551.3" stroke="#f2f2f2" stroke-width="0.7" fill="none"/>
<circle cx="565.3" cy="466.7" r="7" fill="#5e97a3"/><circle cx="562.9" cy="464.9" r="1.2" fill="#f2f2f2"/><circle cx="567.8" cy="464.9" r="1.2" fill="#f2f2f2"/><path d="M561.4 469H569.4" stroke="#f2f2f2" stroke-width="1.1" fill="none"/>
<g transform="translate(724.7 366.7) scale(0.9986 0.9609)">
<path d="M40 46.2 H92.2 A5.6 5.6 0 0 1 92.2 57.5 H45.5 A5.6 5.6 0 0 0 45.5 68.8 H90.2 A5.6 5.6 0 0 1 90.2 80.1 H40" fill="none" stroke="#e79cb2" stroke-width="6.3" stroke-linecap="round"/>
<g fill="#d98d93">
<circle cx="19.6" cy="23.5" r="19.6"/>
<circle cx="40.1" cy="19.8" r="19.8"/>
<circle cx="67.5" cy="19.8" r="19.8"/>
<circle cx="96.4" cy="19.8" r="19.8"/>
<circle cx="121.8" cy="28.2" r="19.8"/>
<circle cx="126.2" cy="49.8" r="19.8"/>
<circle cx="115.9" cy="80.7" r="19.8"/>
<circle cx="104.2" cy="102.5" r="18.8"/>
<circle cx="74.5" cy="101" r="16.4"/>
<circle cx="76.8" cy="118.2" r="16.5"/>
<circle cx="76.8" cy="134.6" r="11.3"/>
<circle cx="20.6" cy="46.6" r="19.8"/>
<circle cx="19.8" cy="74.5" r="19.8"/>
<circle cx="28.4" cy="97.1" r="19.7"/>
</g></g>
<circle cx="740.5" cy="380.3" r="10.9" fill="#5a7fb3"/><circle cx="736.8" cy="377.6" r="1.9" fill="#f2f2f2"/><circle cx="744.4" cy="377.6" r="1.9" fill="#f2f2f2"/><path d="M734.5 383.9H746.8" stroke="#f2f2f2" stroke-width="1.6" fill="none"/>
<circle cx="793.1" cy="383.4" r="11.7" fill="#5e97a3"/><circle cx="789.1" cy="380.5" r="2" fill="#f2f2f2"/><circle cx="797.3" cy="380.5" r="2" fill="#f2f2f2"/><path d="M786.7 387.3H799.9" stroke="#f2f2f2" stroke-width="1.8" fill="none"/>
<circle cx="839.2" cy="386.3" r="8.9" fill="#5a7fb3"/><circle cx="836.2" cy="384.1" r="1.5" fill="#f2f2f2"/><circle cx="842.4" cy="384.1" r="1.5" fill="#f2f2f2"/><path d="M834.3 389.2H844.4" stroke="#f2f2f2" stroke-width="1.3" fill="none"/>
<circle cx="760.6" cy="405.8" r="10.9" fill="#ae5a8c"/><g transform="rotate(14 760.6 405.8)"><circle cx="756.9" cy="403.1" r="1.9" fill="#f2f2f2"/><circle cx="764.5" cy="403.1" r="1.9" fill="#f2f2f2"/><path d="M754.6 409.4H766.9" stroke="#f2f2f2" stroke-width="1.6" fill="none"/></g>
<circle cx="859.5" cy="413.1" r="10.9" fill="#ae5a8c"/><circle cx="855.8" cy="410.4" r="1.9" fill="#f2f2f2"/><circle cx="863.4" cy="410.4" r="1.9" fill="#f2f2f2"/><path d="M853.5 416.7H865.8" stroke="#f2f2f2" stroke-width="1.6" fill="none"/>
<circle cx="736.1" cy="429.5" r="8.6" fill="#5e97a3"/><g transform="rotate(-14 736.1 429.5)"><circle cx="733.2" cy="427.4" r="1.5" fill="#f2f2f2"/><circle cx="739.2" cy="427.4" r="1.5" fill="#f2f2f2"/><path d="M731.4 432.3H741.1" stroke="#f2f2f2" stroke-width="1.3" fill="none"/></g>
<circle cx="840" cy="448.8" r="12" fill="#5e97a3"/><g transform="rotate(10 840 448.8)"><circle cx="835.9" cy="445.8" r="2" fill="#f2f2f2"/><circle cx="844.3" cy="445.8" r="2" fill="#f2f2f2"/><path d="M833.4 452.8H847" stroke="#f2f2f2" stroke-width="1.8" fill="none"/></g>
<circle cx="757.7" cy="466.3" r="7.8" fill="#ae5a8c"/><g transform="rotate(-10 757.7 466.3)"><circle cx="755" cy="464.4" r="1.3" fill="#f2f2f2"/><circle cx="760.5" cy="464.4" r="1.3" fill="#f2f2f2"/><path d="M753.4 468.9H762.2" stroke="#f2f2f2" stroke-width="1.2" fill="none"/></g>
<circle cx="798.3" cy="466.3" r="7.8" fill="#5a7fb3"/><circle cx="795.6" cy="464.4" r="1.3" fill="#f2f2f2"/><circle cx="801.1" cy="464.4" r="1.3" fill="#f2f2f2"/><path d="M794 468.9H802.8" stroke="#f2f2f2" stroke-width="1.2" fill="none"/>
<!-- side labels -->
<g fill="#383838" font-size="25" stroke="#f1f5fc" stroke-width="0.3">
<text x="55" y="164.7" textLength="79" lengthAdjust="spacingAndGlyphs">Before</text>
<text x="69.2" y="200.1" textLength="50.2" lengthAdjust="spacingAndGlyphs">FMT</text>
<text x="889.8" y="165.2" textLength="64.5" lengthAdjust="spacingAndGlyphs">After</text>
<text x="896" y="200.2" textLength="50.8" lengthAdjust="spacingAndGlyphs">FMT</text>
</g>
<g fill="#383838" font-size="25" stroke="#fff" stroke-width="0.3">
<text x="58.8" y="429.7" textLength="79" lengthAdjust="spacingAndGlyphs">Before</text>
<text x="73" y="465.1" textLength="50" lengthAdjust="spacingAndGlyphs">FMT</text>
<text x="893" y="429.7" textLength="65.5" lengthAdjust="spacingAndGlyphs">After</text>
<text x="900.6" y="465.1" textLength="50.4" lengthAdjust="spacingAndGlyphs">FMT</text>
</g>
<!-- arrows -->
<g fill="#2f4f83">
<path id="ar1" d="M354.3 151.7H369.3V144.7L384.1 159.4L369.3 174.1V166.7H354.3Z"/>
<path d="M651.2 151.7H666.1V144.7L681 159.4L666.1 174.1V166.7H651.2Z"/>
</g>
<g fill="#000">
<path d="M300 432.4H314.7V425.1L329.8 439.7L314.7 454.4V447.2H300Z"/>
<path d="M491.3 432.4H506.2V425.1L521.2 439.7L506.2 454.4V447.2H491.3Z"/>
<path d="M682.2 432.4H697.1V425.1L712.1 439.7L697.1 454.4V447.2H682.2Z"/>
</g>
<!-- transplantation boxes -->
<rect x="573.3" y="196" width="160.7" height="34" fill="#33517f"/>
<text x="583.2" y="220.9" font-size="20" fill="#fff" textLength="142.7" lengthAdjust="spacingAndGlyphs">Transplantation</text>
<rect x="627" y="483.3" width="160.6" height="33.3" fill="#363636"/>
<text x="636.9" y="507.2" font-size="20" fill="#fff" textLength="142.1" lengthAdjust="spacingAndGlyphs">Transplantation</text>
<!-- captions -->
<g font-size="18.5" class="b" fill="#30508a" stroke="#f1f5fc" stroke-width="0.4">
<text x="286.7" y="255.4" textLength="23.4" lengthAdjust="spacingAndGlyphs">No</text>
<text x="317.5" y="255.4" textLength="130.3" lengthAdjust="spacingAndGlyphs">pretreatment</text>
</g>
<g font-size="18.5" class="b" fill="#30508a" stroke="#f1f5fc" stroke-width="0.4">
<text x="326.3" y="276.9" textLength="80.8" lengthAdjust="spacingAndGlyphs">required</text>
</g>
<g font-size="18.5" class="b" fill="#30508a" stroke="#f1f5fc" stroke-width="0.4">
<text x="558.4" y="255.7" textLength="93.2" lengthAdjust="spacingAndGlyphs">Intestinal</text>
<text x="658" y="255.7" textLength="141.2" lengthAdjust="spacingAndGlyphs">administration</text>
<text x="804.7" y="255.7" textLength="51" lengthAdjust="spacingAndGlyphs">using</text>
</g>
<g font-size="18.5" class="b" fill="#30508a" stroke="#f1f5fc" stroke-width="0.4">
<text x="548.4" y="277" textLength="9.2" lengthAdjust="spacingAndGlyphs">a</text>
<text x="565" y="277" textLength="37.4" lengthAdjust="spacingAndGlyphs">thin</text>
<text x="609.5" y="277" textLength="67" lengthAdjust="spacingAndGlyphs">rubber</text>
<text x="682.5" y="277" textLength="87.6" lengthAdjust="spacingAndGlyphs">intestinal</text>
<text x="776.5" y="277" textLength="87.2" lengthAdjust="spacingAndGlyphs">catheter</text>
</g>
<g font-size="19" class="r" fill="#2c2c2c" stroke="#fff" stroke-width="0.2">
<text x="171.4" y="539.3" textLength="122.9" lengthAdjust="spacingAndGlyphs">Antimicrobial</text>
<text x="299.7" y="539.3" textLength="136.1" lengthAdjust="spacingAndGlyphs">administration</text>
</g>
<g font-size="19" class="r" fill="#2c2c2c" stroke="#fff" stroke-width="0.2">
<text x="191.9" y="560.4" textLength="38" lengthAdjust="spacingAndGlyphs">PEG</text>
<text x="234.7" y="560.4" textLength="88" lengthAdjust="spacingAndGlyphs">intestinal</text>
<text x="327.6" y="560.4" textLength="86.8" lengthAdjust="spacingAndGlyphs">cleansing</text>
</g>
<g font-size="19" class="r" fill="#2c2c2c" stroke="#fff" stroke-width="0.2">
<text x="615.3" y="539" textLength="136.4" lengthAdjust="spacingAndGlyphs">Administration</text>
<text x="757.4" y="539" textLength="19.8" lengthAdjust="spacingAndGlyphs">of</text>
</g>
<g font-size="19" class="r" fill="#2c2c2c" stroke="#fff" stroke-width="0.2">
<text x="542.3" y="560.3" textLength="79.9" lengthAdjust="spacingAndGlyphs">bacterial</text>
<text x="630.3" y="560.3" textLength="74.9" lengthAdjust="spacingAndGlyphs">solution</text>
<text x="712.3" y="560.3" textLength="26.1" lengthAdjust="spacingAndGlyphs">via</text>
<text x="743.1" y="560.3" textLength="111.5" lengthAdjust="spacingAndGlyphs">colonoscopy</text>
</g>
</svg>
</body>
</html>
